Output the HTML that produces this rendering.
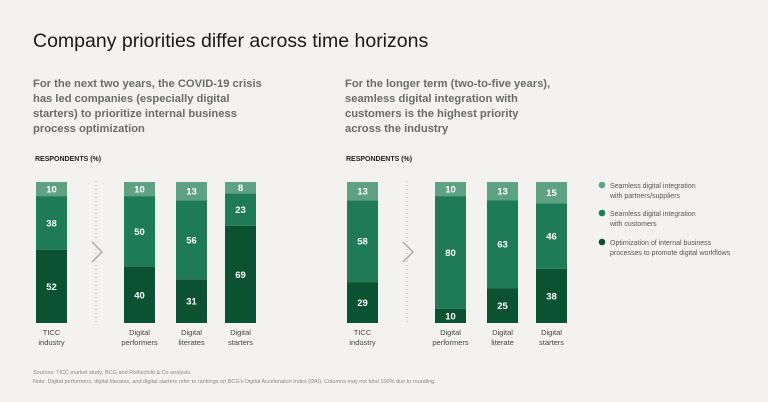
<!DOCTYPE html>
<html><head><meta charset="utf-8"><style>
body{margin:0;background:#f3f2f0;}
#c{width:768px;height:402px;position:relative;overflow:hidden;font-family:"Liberation Sans",sans-serif;}
</style></head><body>
<div id="c">
<svg id="s" width="768" height="402" xmlns="http://www.w3.org/2000/svg" font-family="Liberation Sans, sans-serif">
<text x="33" y="47" font-size="19.5" fill="#1a1a1a">Company priorities differ across time horizons</text>
<g font-size="11.2" font-weight="bold" fill="#6b6b6b">
<text x="33" y="87">For the next two years, the COVID-19 crisis</text>
<text x="33" y="102">has led companies (especially digital</text>
<text x="33" y="117">starters) to prioritize internal business</text>
<text x="33" y="132">process optimization</text></g>
<g font-size="11.2" font-weight="bold" fill="#6b6b6b">
<text x="345" y="87">For the longer term (two-to-five years),</text>
<text x="345" y="102">seamless digital integration with</text>
<text x="345" y="117">customers is the highest priority</text>
<text x="345" y="132">across the industry</text></g>
<text x="35" y="161" font-size="7" font-weight="bold" fill="#222">RESPONDENTS (%)</text>
<text x="346" y="161" font-size="7" font-weight="bold" fill="#222">RESPONDENTS (%)</text>
<line x1="96" y1="181" x2="96" y2="323" stroke="#aaa" stroke-width="1" stroke-dasharray="1,3"/>
<line x1="407" y1="181" x2="407" y2="323" stroke="#aaa" stroke-width="1" stroke-dasharray="1,3"/>
<polyline points="92,242 102,252 92,262" fill="none" stroke="#aaa" stroke-width="1.5"/>
<polyline points="403,242 413,252 403,262" fill="none" stroke="#aaa" stroke-width="1.5"/>
<g id="bars"></g>
<g font-size="7" fill="#555">
<circle cx="602" cy="185" r="3.3" fill="#5fa283"/><text x="610" y="188">Seamless digital integration</text><text x="610" y="198">with partners/suppliers</text>
<circle cx="602" cy="213" r="3.3" fill="#1e7a57"/><text x="610" y="216">Seamless digital integration</text><text x="610" y="226">with customers</text>
<circle cx="602" cy="242" r="3.3" fill="#0b5232"/><text x="610" y="245">Optimization of internal business</text><text x="610" y="255">processes to promote digital workflows</text>
</g>
<g font-size="5.5" fill="#888">
<text x="33" y="374">Sources: TICC market study; BCG and Rothschild &amp; Co analysis.</text>
<text x="33" y="383">Note: Digital performers, digital literates, and digital starters refer to rankings on BCG's Digital Acceleration Index (DAI). Columns may not total 100% due to rounding.</text>
</g>
</svg></div>
<script>
const leftCats=[["TICC","industry"],["Digital","performers"],["Digital","literates"],["Digital","starters"]];
const rightCats=[["TICC","industry"],["Digital","performers"],["Digital","literate"],["Digital","starters"]];
const leftPartners=[10,10,13,8];
const leftCustomers=[38,50,56,23];
const leftOptimization=[52,40,31,69];
const rightPartners=[13,10,13,15];
const rightCustomers=[58,80,63,46];
const rightOptimization=[29,10,25,38];
const NS="http://www.w3.org/2000/svg";
const g=document.getElementById('bars');
const top0=182,bot=323,bw=31;
const colors=["#0b5232","#1e7a57","#5fa283"];
function yScale(v,total){return (bot-top0)*v/total;}
function draw(xs,cats,p,c,o){
 xs.forEach((x,i)=>{
  const vals=[o[i],c[i],p[i]];
  const total=vals.reduce((a,b)=>a+b,0);
  let y=bot;
  vals.forEach((v,k)=>{
   const h=yScale(v,total);
   const r=document.createElementNS(NS,'rect');
   r.setAttribute('x',x);r.setAttribute('y',y-h);r.setAttribute('width',bw);r.setAttribute('height',h);
   r.setAttribute('fill',colors[k]);
   
   
   g.appendChild(r);
   const t=document.createElementNS(NS,'text');
   t.setAttribute('x',x+bw/2);t.setAttribute('y',y-h/2+3.5);t.setAttribute('text-anchor','middle');
   t.setAttribute('font-size','9.5');t.setAttribute('font-weight','bold');t.setAttribute('fill','#fff');
   t.textContent=v;
   
   
   g.appendChild(t);
   y-=h;
  });
  cats[i].forEach((line,j)=>{
   const t=document.createElementNS(NS,'text');
   t.setAttribute('x',x+bw/2);t.setAttribute('y',335+j*10);t.setAttribute('text-anchor','middle');
   t.setAttribute('font-size','7.5');t.setAttribute('fill','#444');
   t.textContent=line;
   
   
   g.appendChild(t);
  });
 });
}
draw([36,124,176,225],leftCats,leftPartners,leftCustomers,leftOptimization);
draw([347,435,487,536],rightCats,rightPartners,rightCustomers,rightOptimization);
</script>
</body></html>
